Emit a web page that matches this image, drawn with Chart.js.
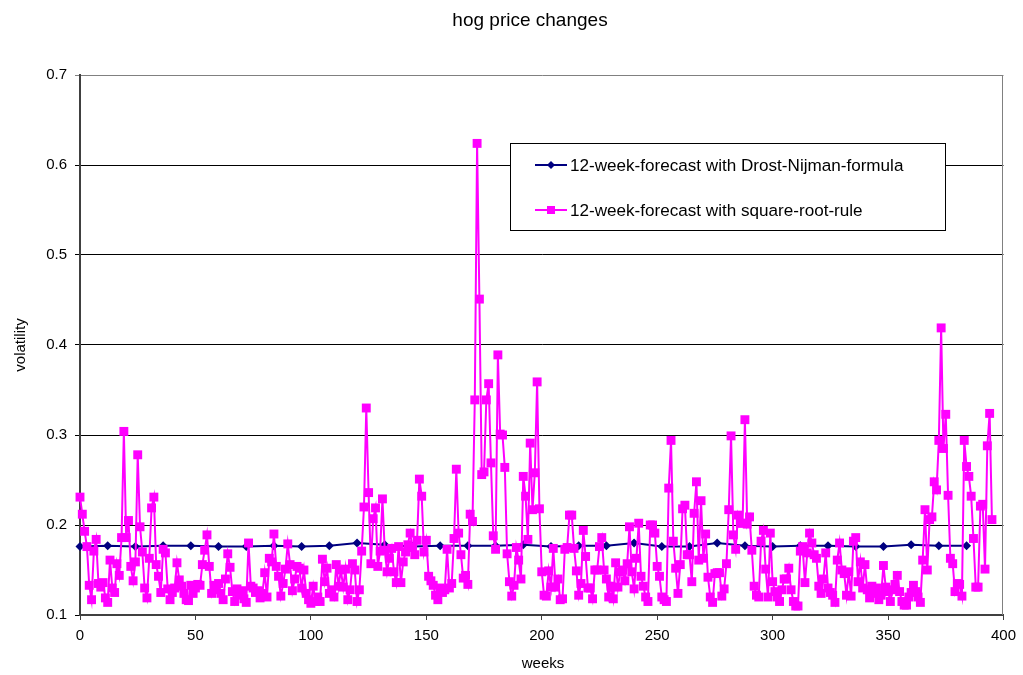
<!DOCTYPE html>
<html>
<head>
<meta charset="utf-8">
<script src="https://cdn.jsdelivr.net/npm/chart.js@4.4.1/dist/chart.umd.min.js"></script>
<style>
  html, body { margin: 0; padding: 0; background: #ffffff; }
  #wrap { width: 1023px; height: 675px; position: relative; }
</style>
</head>
<body>
<div id="wrap"><canvas id="c" width="1023" height="675"></canvas></div>
<script>
// ---- data ----
const chartTitle = "hog price changes";
const xAxisTitle = "weeks";
const yAxisTitle = "volatility";
const seriesNames = ["12-week-forecast with Drost-Nijman-formula", "12-week-forecast with square-root-rule"];

const xTicks = [0, 50, 100, 150, 200, 250, 300, 350, 400];
const yTicks = [0.1, 0.2, 0.3, 0.4, 0.5, 0.6, 0.7];

// Drost-Nijman forecast, one value every 12 weeks
const dnWeeks = [0, 12, 24, 36, 48, 60, 72, 84, 96, 108, 120, 132, 144, 156, 168, 180, 192,
  204, 216, 228, 240, 252, 264, 276, 288, 300, 312, 324, 336, 348, 360, 372, 384];
const dnValues = [0.176, 0.177, 0.176, 0.177, 0.177, 0.176, 0.176, 0.177, 0.176, 0.177, 0.180,
  0.178, 0.176, 0.177, 0.177, 0.177, 0.178, 0.176, 0.177, 0.177, 0.180, 0.176, 0.176, 0.180,
  0.177, 0.176, 0.177, 0.177, 0.176, 0.176, 0.178, 0.177, 0.177];

// square-root-rule forecast, weekly values starting at week 0
const srValues = [
  0.231, 0.212, 0.193, 0.176, 0.133, 0.117, 0.171, 0.184, 0.135, 0.131,
  0.136, 0.119, 0.114, 0.161, 0.130, 0.125, 0.157, 0.144, 0.186, 0.304,
  0.186, 0.205, 0.154, 0.138, 0.159, 0.278, 0.198, 0.170, 0.130, 0.119,
  0.163, 0.219, 0.231, 0.156, 0.143, 0.125, 0.173, 0.169, 0.129, 0.117,
  0.125, 0.130, 0.158, 0.139, 0.132, 0.124, 0.117, 0.116, 0.133, 0.124,
  0.130, 0.134, 0.133, 0.156, 0.172, 0.189, 0.154, 0.124, 0.133, 0.128,
  0.135, 0.124, 0.117, 0.140, 0.168, 0.153, 0.126, 0.115, 0.129, 0.122,
  0.127, 0.118, 0.114, 0.180, 0.132, 0.130, 0.125, 0.127, 0.119, 0.124,
  0.147, 0.120, 0.163, 0.159, 0.190, 0.154, 0.143, 0.121, 0.135, 0.151,
  0.179, 0.156, 0.127, 0.140, 0.154, 0.152, 0.130, 0.150, 0.124, 0.117,
  0.113, 0.132, 0.115, 0.120, 0.115, 0.162, 0.137, 0.152, 0.124, 0.128,
  0.120, 0.156, 0.132, 0.150, 0.131, 0.151, 0.117, 0.128, 0.157, 0.150,
  0.115, 0.128, 0.171, 0.220, 0.330, 0.236, 0.157, 0.207, 0.219, 0.154,
  0.171, 0.229, 0.172, 0.148, 0.163, 0.174, 0.148, 0.136, 0.176, 0.136,
  0.159, 0.170, 0.178, 0.191, 0.175, 0.167, 0.183, 0.251, 0.232, 0.170,
  0.183, 0.143, 0.138, 0.133, 0.122, 0.117, 0.130, 0.125, 0.128, 0.173,
  0.130, 0.135, 0.185, 0.262, 0.191, 0.167, 0.141, 0.144, 0.134, 0.212,
  0.204, 0.339, 0.624, 0.451, 0.256, 0.259, 0.339, 0.357, 0.269, 0.188,
  0.173, 0.389, 0.301, 0.300, 0.264, 0.168, 0.137, 0.121, 0.133, 0.175,
  0.161, 0.140, 0.254, 0.232, 0.184, 0.291, 0.217, 0.258, 0.359, 0.218,
  0.148, 0.122, 0.121, 0.149, 0.131, 0.174, 0.131, 0.140, 0.117, 0.118,
  0.173, 0.175, 0.211, 0.211, 0.174, 0.149, 0.122, 0.135, 0.194, 0.165,
  0.130, 0.130, 0.118, 0.150, 0.150, 0.176, 0.186, 0.150, 0.140, 0.120,
  0.132, 0.118, 0.158, 0.131, 0.148, 0.150, 0.138, 0.157, 0.198, 0.148,
  0.129, 0.163, 0.202, 0.143, 0.132, 0.120, 0.115, 0.200, 0.200, 0.191,
  0.154, 0.143, 0.120, 0.117, 0.115, 0.241, 0.294, 0.182, 0.152, 0.124,
  0.156, 0.218, 0.222, 0.167, 0.167, 0.137, 0.213, 0.248, 0.161, 0.227,
  0.163, 0.190, 0.142, 0.120, 0.114, 0.146, 0.147, 0.147, 0.121, 0.129,
  0.157, 0.217, 0.299, 0.189, 0.173, 0.211, 0.202, 0.202, 0.317, 0.201,
  0.209, 0.172, 0.132, 0.122, 0.120, 0.182, 0.194, 0.151, 0.120, 0.191,
  0.137, 0.126, 0.120, 0.115, 0.128, 0.140, 0.140, 0.152, 0.128, 0.115,
  0.110, 0.110, 0.171, 0.176, 0.136, 0.169, 0.191, 0.180, 0.167, 0.163,
  0.132, 0.124, 0.140, 0.169, 0.130, 0.125, 0.122, 0.114, 0.161, 0.180,
  0.150, 0.146, 0.122, 0.148, 0.121, 0.182, 0.186, 0.137, 0.159, 0.130,
  0.156, 0.128, 0.119, 0.132, 0.124, 0.130, 0.117, 0.122, 0.155, 0.131,
  0.126, 0.115, 0.128, 0.134, 0.144, 0.126, 0.115, 0.111, 0.111, 0.120,
  0.125, 0.133, 0.126, 0.120, 0.114, 0.161, 0.217, 0.150, 0.206, 0.209,
  0.248, 0.239, 0.294, 0.419, 0.285, 0.323, 0.233, 0.163, 0.157, 0.126,
  0.135, 0.134, 0.121, 0.294, 0.265, 0.254, 0.232, 0.185, 0.131, 0.131,
  0.221, 0.223, 0.151, 0.288, 0.324, 0.206
];
const srWeeks = srValues.map((v, i) => i);

// ---- styles ----
const FONT = '"Liberation Sans", Arial, sans-serif';
const NAVY = '#000080';
const MAGENTA = '#FF00FF';

const dnPoints = dnWeeks.map((w, i) => ({ x: w, y: dnValues[i] }));
const srPoints = srWeeks.map((w, i) => ({ x: w, y: srValues[i] }));

const decorations = {
  id: 'decorations',
  afterDraw(chart) {
    const ctx = chart.ctx;
    const ca = chart.chartArea;
    ctx.save();
    // right border of plot area
    ctx.strokeStyle = '#808080';
    ctx.lineWidth = 1;
    ctx.beginPath();
    ctx.moveTo(Math.round(ca.right) - 0.5, ca.top);
    ctx.lineTo(Math.round(ca.right) - 0.5, ca.bottom);
    ctx.stroke();

    ctx.fillStyle = '#000';
    // chart title
    ctx.font = '19px ' + FONT;
    ctx.textAlign = 'center';
    ctx.textBaseline = 'alphabetic';
    ctx.fillText(chartTitle, 530, 25.5);
    // x axis title
    ctx.font = '15px ' + FONT;
    ctx.textBaseline = 'middle';
    ctx.fillText(xAxisTitle, 543, 664);
    // y axis title
    ctx.save();
    ctx.translate(21, 345);
    ctx.rotate(-Math.PI / 2);
    ctx.fillText(yAxisTitle, 0, 0);
    ctx.restore();

    // legend box
    const lx = 510.5, ly = 143.5, lw = 435, lh = 87;
    ctx.fillStyle = '#fff';
    ctx.fillRect(lx, ly, lw, lh);
    ctx.strokeStyle = '#000';
    ctx.lineWidth = 1;
    ctx.strokeRect(lx, ly, lw, lh);
    const rows = [
      { y: 165, color: NAVY, marker: 'diamond', text: seriesNames[0] },
      { y: 210, color: MAGENTA, marker: 'square', text: seriesNames[1] }
    ];
    rows.forEach(r => {
      ctx.strokeStyle = r.color;
      ctx.lineWidth = 2;
      ctx.beginPath();
      ctx.moveTo(535, r.y);
      ctx.lineTo(567, r.y);
      ctx.stroke();
      ctx.fillStyle = r.color;
      if (r.marker === 'diamond') {
        ctx.beginPath();
        ctx.moveTo(551, r.y - 4);
        ctx.lineTo(555, r.y);
        ctx.lineTo(551, r.y + 4);
        ctx.lineTo(547, r.y);
        ctx.closePath();
        ctx.fill();
      } else {
        ctx.fillRect(547, r.y - 4, 8, 8);
      }
      ctx.fillStyle = '#000';
      ctx.font = '17.1px ' + FONT;
      ctx.textAlign = 'left';
      ctx.textBaseline = 'middle';
      ctx.fillText(r.text, 570, r.y + 1);
    });
    ctx.restore();
  }
};

new Chart(document.getElementById('c'), {
  type: 'line',
  data: {
    datasets: [
      {
        label: seriesNames[0],
        data: dnPoints,
        borderColor: NAVY,
        backgroundColor: NAVY,
        borderWidth: 2,
        pointStyle: 'rectRot',
        pointRadius: 4.5,
        pointBorderWidth: 0,
        pointBackgroundColor: NAVY,
        tension: 0,
        clip: false,
        order: 1
      },
      {
        label: seriesNames[1],
        data: srPoints,
        borderColor: MAGENTA,
        backgroundColor: MAGENTA,
        borderWidth: 2,
        pointStyle: 'rect',
        pointRadius: 6.3,
        pointBorderWidth: 0,
        pointBackgroundColor: MAGENTA,
        tension: 0,
        clip: false,
        order: 0
      }
    ]
  },
  options: {
    responsive: false,
    animation: false,
    devicePixelRatio: 1,
    layout: { padding: { top: 75, right: 16, left: 0, bottom: 0 } },
    plugins: {
      legend: { display: false },
      title: { display: false },
      tooltip: { enabled: false }
    },
    scales: {
      x: {
        type: 'linear',
        min: 0,
        max: 400,
        afterBuildTicks: (scale) => { scale.ticks = xTicks.map(v => ({ value: v })); },
        afterFit: (scale) => { scale.height = 60; },
        ticks: {
          color: '#000',
          font: { family: FONT, size: 15 },
          padding: 7,
          maxRotation: 0,
          autoSkip: false
        },
        grid: {
          drawOnChartArea: false,
          drawTicks: true,
          tickLength: 5,
          color: '#404040',
          lineWidth: 1
        },
        border: { display: true, color: '#404040', width: 2 }
      },
      y: {
        type: 'linear',
        min: 0.1,
        max: 0.7,
        afterBuildTicks: (scale) => { scale.ticks = yTicks.map(v => ({ value: v })); },
        afterFit: (scale) => { scale.width = 80; },
        ticks: {
          color: '#000',
          font: { family: FONT, size: 15 },
          padding: 8,
          callback: (v) => Number(v).toFixed(1)
        },
        grid: {
          drawTicks: true,
          tickLength: 5,
          lineWidth: 1,
          color: (c) => (c.tick && Math.abs(c.tick.value - 0.7) < 1e-6) ? '#808080' : '#000000'
        },
        border: { display: true, color: '#404040', width: 2 }
      }
    }
  },
  plugins: [decorations]
});
</script>
</body>
</html>
